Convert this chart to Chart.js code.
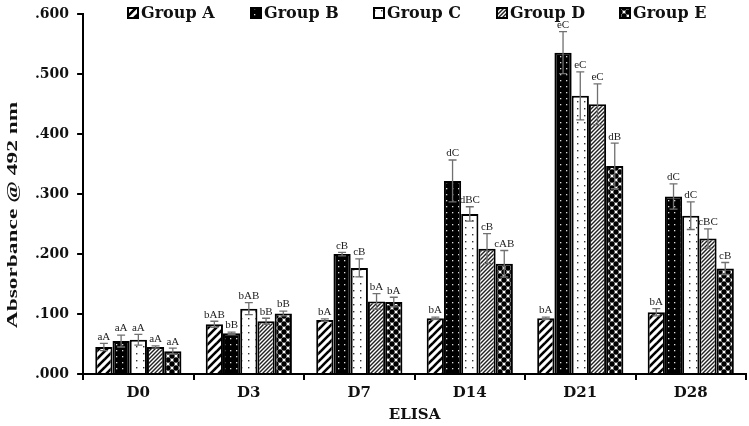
<!DOCTYPE html>
<html>
<head>
<meta charset="utf-8">
<script src="https://cdn.jsdelivr.net/npm/chart.js@4.4.1/dist/chart.umd.min.js"></script>
<style>
  html, body { margin: 0; padding: 0; background: #fff; }
  #wrap { width: 749px; height: 426px; position: relative; }
</style>
</head>
<body>
<div id="wrap"><canvas id="elisaChart"></canvas></div>
<script>
// ----- DATA -----
const categories = ['D0', 'D3', 'D7', 'D14', 'D21', 'D28'];
const groupNames = ['Group A', 'Group B', 'Group C', 'Group D', 'Group E'];

const groupA = [0.045, 0.083, 0.090, 0.093, 0.093, 0.103];
const groupB = [0.055, 0.068, 0.200, 0.322, 0.536, 0.296];
const groupC = [0.057, 0.109, 0.177, 0.267, 0.464, 0.264];
const groupD = [0.045, 0.088, 0.121, 0.209, 0.450, 0.226];
const groupE = [0.038, 0.101, 0.120, 0.184, 0.347, 0.176];

const errA = [0.006, 0.005, 0.002, 0.002, 0.002, 0.006];
const errB = [0.010, 0.002, 0.003, 0.035, 0.035, 0.021];
const errC = [0.009, 0.010, 0.015, 0.012, 0.040, 0.023];
const errD = [0.002, 0.005, 0.013, 0.025, 0.034, 0.016];
const errE = [0.005, 0.004, 0.008, 0.022, 0.038, 0.010];

const labA = ['aA', 'bAB', 'bA', 'bA', 'bA', 'bA'];
const labB = ['aA', 'bB', 'cB', 'dC', 'eC', 'dC'];
const labC = ['aA', 'bAB', 'cB', 'dBC', 'eC', 'dC'];
const labD = ['aA', 'bB', 'bA', 'cB', 'eC', 'cBC'];
const labE = ['aA', 'bB', 'bA', 'cAB', 'dB', 'cB'];

const yTicks = [0, 0.1, 0.2, 0.3, 0.4, 0.5, 0.6];

// ----- PATTERNS -----
function makePattern(size, draw) {
  const c = document.createElement('canvas');
  c.width = size; c.height = size;
  const g = c.getContext('2d');
  draw(g, size);
  return document.createElement('canvas').getContext('2d').createPattern(c, 'repeat');
}

const patA = makePattern(8, (g, s) => {
  g.fillStyle = '#fff'; g.fillRect(0, 0, s, s);
  g.strokeStyle = '#000'; g.lineWidth = 2.6;
  for (let k = -1; k <= 1; k++) {
    g.beginPath(); g.moveTo(k * s - 1, s + 1); g.lineTo(k * s + s + 1, -1); g.stroke();
  }
});
const patB = makePattern(6, (g, s) => {
  g.fillStyle = '#000'; g.fillRect(0, 0, s, s);
  g.fillStyle = '#ddd'; g.fillRect(2, 2, 1.3, 1.3);
});
const patC = makePattern(7, (g, s) => {
  g.fillStyle = '#fff'; g.fillRect(0, 0, s, s);
  g.fillStyle = '#333'; g.fillRect(3, 3, 1.4, 1.4);
});
const patD = makePattern(4, (g, s) => {
  g.fillStyle = '#fff'; g.fillRect(0, 0, s, s);
  g.strokeStyle = '#222'; g.lineWidth = 1.4;
  for (let k = -1; k <= 1; k++) {
    g.beginPath(); g.moveTo(k * s - 1, s + 1); g.lineTo(k * s + s + 1, -1); g.stroke();
  }
});
const patE = makePattern(8, (g, s) => {
  g.fillStyle = '#fff'; g.fillRect(0, 0, s, s);
  g.fillStyle = '#000';
  [[0, 0], [8, 0], [0, 8], [8, 8], [4, 4]].forEach(([x, y]) => {
    g.beginPath(); g.arc(x, y, 2.7, 0, Math.PI * 2); g.fill();
  });
});

const patterns = [patA, patB, patC, patD, patE];
const seriesValues = [groupA, groupB, groupC, groupD, groupE];
const seriesErrors = [errA, errB, errC, errD, errE];
const seriesLabels = [labA, labB, labC, labD, labE];

// ----- PLUGINS -----
const errorBars = {
  id: 'errorBars',
  afterDatasetsDraw(chart) {
    const ctx = chart.ctx;
    const y = chart.scales.y;
    ctx.save();
    chart.data.datasets.forEach((ds, di) => {
      const meta = chart.getDatasetMeta(di);
      meta.data.forEach((bar, i) => {
        const v = ds.data[i];
        const e = seriesErrors[di][i];
        const top = y.getPixelForValue(v + e);
        const bot = y.getPixelForValue(v - e);
        ctx.strokeStyle = '#707070';
        ctx.lineWidth = 1.3;
        ctx.beginPath();
        ctx.moveTo(bar.x, top); ctx.lineTo(bar.x, bot);
        ctx.moveTo(bar.x - 4, top); ctx.lineTo(bar.x + 4, top);
        ctx.moveTo(bar.x - 4, bot); ctx.lineTo(bar.x + 4, bot);
        ctx.stroke();
        ctx.fillStyle = '#222';
        ctx.font = '11px "Liberation Serif"';
        ctx.textAlign = 'center';
        ctx.textBaseline = 'bottom';
        ctx.fillText(seriesLabels[di][i], bar.x, top - 1);
      });
    });
    ctx.restore();
  }
};

const sideTexts = {
  id: 'sideTexts',
  afterDraw(chart) {
    const ctx = chart.ctx;
    ctx.save();
    // y axis title
    ctx.translate(13, 215);
    ctx.rotate(-Math.PI / 2);
    ctx.scale(1.56, 1);
    ctx.fillStyle = '#111';
    ctx.font = 'bold 15px "Liberation Serif"';
    ctx.textAlign = 'center';
    ctx.textBaseline = 'middle';
    ctx.fillText('Absorbance @ 492 nm', 0, 0);
    ctx.restore();

    // legend
    ctx.save();
    ctx.font = 'bold 16px "DejaVu Serif"';
    ctx.textBaseline = 'middle';
    ctx.textAlign = 'left';
    groupNames.forEach((name, i) => {
      const bx = 128 + i * 123;
      const by = 13;
      ctx.fillStyle = patterns[i];
      ctx.fillRect(bx, by - 5, 10, 10);
      ctx.strokeStyle = '#000';
      ctx.lineWidth = 2;
      ctx.strokeRect(bx, by - 5, 10, 10);
      ctx.fillStyle = '#111';
      ctx.fillText(name, bx + 13, by + 1);
    });
    ctx.restore();
  }
};

// ----- CHART -----
const ctx = document.getElementById('elisaChart').getContext('2d');
new Chart(ctx, {
  type: 'bar',
  data: {
    labels: categories,
    datasets: groupNames.map((name, i) => ({
      label: name,
      data: seriesValues[i],
      backgroundColor: patterns[i],
      borderColor: '#000',
      borderWidth: 2,
      borderSkipped: 'bottom',
      barPercentage: 1.0,
      categoryPercentage: 0.78
    }))
  },
  options: {
    responsive: true,
    maintainAspectRatio: false,
    animation: false,
    layout: { padding: { left: 27, right: 3, top: 0, bottom: 1 } },
    plugins: {
      legend: { display: false },
      tooltip: { enabled: false }
    },
    scales: {
      x: {
        grid: {
          display: true, drawOnChartArea: false, drawTicks: true,
          tickLength: 6, color: '#000', lineWidth: 2, offset: true
        },
        border: { display: true, color: '#000', width: 2 },
        ticks: {
          color: '#111', padding: 4,
          font: { family: 'DejaVu Serif', size: 15, weight: 'bold' }
        },
        title: {
          display: true, text: 'ELISA', color: '#111', padding: { top: 0, bottom: 1 },
          font: { family: 'DejaVu Serif', size: 15, weight: 'bold' }
        }
      },
      y: {
        min: 0, max: 0.6,
        afterBuildTicks: axis => { axis.ticks = yTicks.map(v => ({ value: v })); },
        grid: {
          display: true, drawOnChartArea: false, drawTicks: true,
          tickLength: 6, color: '#000', lineWidth: 2
        },
        border: { display: true, color: '#000', width: 2 },
        ticks: {
          color: '#111', padding: 8,
          font: { family: 'DejaVu Serif', size: 14, weight: 'bold', lineHeight: 0.9 },
          callback: v => Number(v).toFixed(3).replace(/^0/, '')
        }
      }
    }
  },
  plugins: [errorBars, sideTexts]
});
</script>
</body>
</html>
